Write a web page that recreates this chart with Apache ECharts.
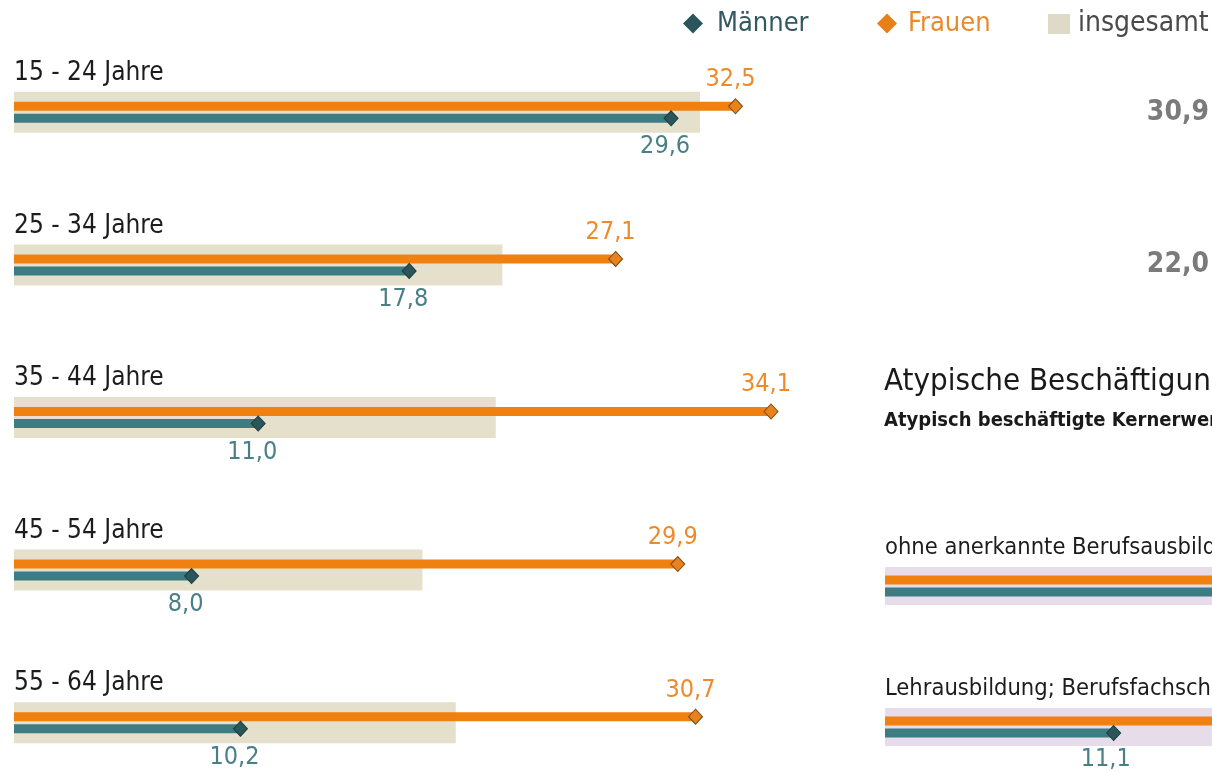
<!DOCTYPE html>
<html>
<head>
<meta charset="utf-8">
<script src="https://cdn.jsdelivr.net/npm/echarts@6/dist/echarts.min.js"></script>
<style>
  html, body { margin: 0; padding: 0; background: #fff; }
  #chart { width: 1212px; height: 771px; }
</style>
</head>
<body>
<div id="chart"></div>
<script>
  // Altersgruppen (links)
  const ageGroups = ['15 - 24 Jahre', '25 - 34 Jahre', '35 - 44 Jahre', '45 - 54 Jahre', '55 - 64 Jahre']
  const ageMen = [29.6, 17.8, 11.0, 8.0, 10.2]
  const ageWomen = [32.5, 27.1, 34.1, 29.9, 30.7]
  const ageTotal = [30.9, 22.0, 21.7, 18.4, 19.9]
  // nur die ersten beiden Gesamtwerte sind im Bild beschriftet
  const ageTotalLabelled = [true, true, false, false, false]

  // Bildungsabschluss (rechts, angeschnitten)
  const eduGroups = ['ohne anerkannte Berufsausbildung', 'Lehrausbildung; Berufsfachschule']
  const eduMen = [22.0, 11.1]
  const eduWomen = [30.0, 27.0]
  const eduTotal = [26.0, 19.0]

  const COND = '"DejaVu Sans Condensed", "Liberation Sans Narrow", sans-serif'
  const ORANGE = '#f0800f'
  const TEAL = '#3d7c83'
  const fmt = v => v.toFixed(1).replace('.', ',')

  const chart = echarts.init(document.getElementById('chart'))

  // Kategorien-Achse mit Beschriftung über den Balken
  function catAxis (grid, data, pad, size, show) {
    return {
      type: 'category',
      gridIndex: grid,
      data: data,
      inverse: true,
      axisLine: { show: false },
      axisTick: { show: false },
      splitLine: { show: false },
      axisLabel: {
        show: show,
        inside: true,
        margin: 0,
        interval: 0,
        align: 'left',
        verticalAlign: 'bottom',
        padding: [0, 0, pad, 0],
        lineHeight: size,
        fontSize: size,
        fontFamily: COND,
        color: '#1c1c1c'
      }
    }
  }

  function valAxis (grid) {
    return { type: 'value', gridIndex: grid, min: 0, max: 40, show: false }
  }

  function lineBars (name, axis, vals, color) {
    return {
      name: name,
      type: 'bar',
      xAxisIndex: axis,
      yAxisIndex: axis * 2,
      data: vals,
      barWidth: 9,
      barGap: '33%',
      itemStyle: { color: color },
      z: 3
    }
  }

  function diamonds (name, axis, vals, fill, border, dy, labelColor, labelPos, dist, dx) {
    return {
      name: name,
      type: 'scatter',
      xAxisIndex: axis,
      yAxisIndex: axis * 2,
      data: vals.map((v, i) => [v, i]),
      symbol: 'diamond',
      symbolSize: [14, 15],
      symbolOffset: [0, dy],
      itemStyle: { color: fill, borderColor: border, borderWidth: 1, opacity: 1 },
      label: {
        show: true,
        position: labelPos,
        distance: dist,
        offset: [dx, 0],
        formatter: p => fmt(p.value[0]),
        fontSize: 25,
        fontFamily: COND,
        color: labelColor
      },
      z: 5
    }
  }

  const option = {
    backgroundColor: '#ffffff',
    animation: false,
    title: {
      text: 'Atypische Beschäftigung',
      subtext: 'Atypisch beschäftigte Kernerwerbstätige',
      left: 884,
      top: 366,
      padding: 0,
      itemGap: 12,
      textStyle: {
        fontFamily: COND,
        fontWeight: 'normal',
        fontSize: 31,
        lineHeight: 32,
        color: '#1a1a1a'
      },
      subtextStyle: {
        fontFamily: COND,
        fontWeight: 'bold',
        fontSize: 20,
        lineHeight: 22,
        color: '#1a1a1a'
      }
    },
    legend: [
      {
        left: 683, top: 10, padding: 0, itemWidth: 20, itemHeight: 20,
        data: [{ name: 'Männer', icon: 'diamond', itemStyle: { color: '#2b5659', borderColor: '#1d3b3d' } }],
        textStyle: { fontFamily: COND, fontSize: 27, color: '#33595e', padding: [0, 0, 0, 9] }
      },
      {
        left: 877, top: 10, padding: 0, itemWidth: 20, itemHeight: 20,
        data: [{ name: 'Frauen', icon: 'diamond', itemStyle: { color: '#e8801a', borderColor: '#7a4b17' } }],
        textStyle: { fontFamily: COND, fontSize: 27, color: '#e98a2a', padding: [0, 0, 0, 6] }
      },
      {
        left: 1048, top: 10, padding: 0, itemWidth: 22, itemHeight: 20,
        data: [{ name: 'insgesamt', icon: 'rect', itemStyle: { color: '#dddac7' } }],
        textStyle: { fontFamily: COND, fontSize: 28, color: '#4a4a4a', padding: [0, 0, 0, 3] }
      }
    ],
    grid: [
      { left: 14, top: 36, width: 888, height: 763, outerBoundsMode: 'none' },
      { left: 885, top: 515.5, width: 824, height: 282, outerBoundsMode: 'none' }
    ],
    xAxis: [valAxis(0), valAxis(1)],
    yAxis: [
      catAxis(0, ageGroups, 26, 26, true),
      catAxis(0, ageGroups, 0, 26, false),
      catAxis(1, eduGroups, 26, 23.5, true),
      catAxis(1, eduGroups, 0, 23.5, false)
    ],
    series: [
      {
        name: 'insgesamt',
        type: 'bar',
        xAxisIndex: 0,
        yAxisIndex: 1,
        barWidth: 41,
        data: ageTotal.map((v, i) => ({ value: v, label: { show: ageTotalLabelled[i] } })),
        itemStyle: { color: '#e5e0cb' },
        label: {
          position: [1195, 20.5],
          align: 'right',
          verticalAlign: 'middle',
          formatter: p => fmt(p.value),
          fontFamily: COND,
          fontWeight: 'bold',
          fontSize: 28,
          color: '#7b7b7b'
        },
        z: 1
      },
      lineBars('Frauen', 0, ageWomen, ORANGE),
      lineBars('Männer', 0, ageMen, TEAL),
      diamonds('Frauen', 0, ageWomen, '#e8821c', '#7a4b17', -6, '#ec8b2c', 'top', 6, -5),
      diamonds('Männer', 0, ageMen, '#2b5659', '#1d3b3d', 6, '#4a7f87', 'bottom', 8, -6),

      {
        name: 'insgesamt Bildung',
        type: 'bar',
        xAxisIndex: 1,
        yAxisIndex: 3,
        barWidth: 38,
        data: eduTotal,
        itemStyle: { color: '#e6dcea' },
        z: 1
      },
      lineBars('Frauen', 1, eduWomen, ORANGE),
      lineBars('Männer', 1, eduMen, TEAL),
      diamonds('Frauen', 1, eduWomen, '#e8821c', '#7a4b17', -6, '#ec8b2c', 'top', 6, -5),
      diamonds('Männer', 1, eduMen, '#2b5659', '#1d3b3d', 6, '#4a7f87', 'bottom', 6, -8)
    ]
  }

  chart.setOption(option)
  window.addEventListener('resize', () => {
    chart.resize()
  })
</script>
</body>
</html>
